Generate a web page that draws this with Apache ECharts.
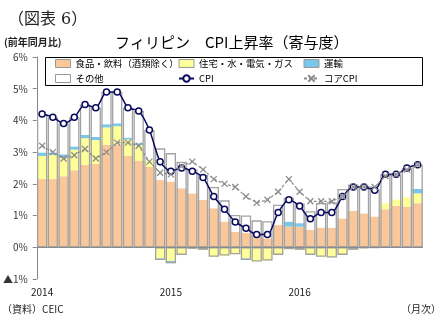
<!DOCTYPE html>
<html><head><meta charset="utf-8">
<script src="https://cdn.jsdelivr.net/npm/echarts@6/dist/echarts.min.js"></script>
<style>html,body{margin:0;padding:0;background:#fff}#c{width:438px;height:321px}</style>
</head><body><div id="c"></div>
<script>
const categories = ['2014/01','2014/02','2014/03','2014/04','2014/05','2014/06','2014/07','2014/08','2014/09','2014/10','2014/11','2014/12',
'2015/01','2015/02','2015/03','2015/04','2015/05','2015/06','2015/07','2015/08','2015/09','2015/10','2015/11','2015/12',
'2016/01','2016/02','2016/03','2016/04','2016/05','2016/06','2016/07','2016/08','2016/09','2016/10','2016/11','2016/12'];
const food      = [2.15,2.15,2.24,2.43,2.60,2.63,3.23,3.23,2.88,2.72,2.54,2.12, 2.07,1.86,1.70,1.49,1.23,0.81,0.49,0.46,0.41,0.28,0.70,0.65, 0.65,0.55,0.62,0.62,0.91,1.15,1.07,0.97,1.20,1.31,1.28,1.39];
const housing   = [0.73,0.76,0.58,0.65,0.84,0.75,0.55,0.59,0.52,0.50,0.20,-0.35, -0.43,-0.22,-0.05,-0.08,-0.30,-0.26,-0.22,-0.35,-0.45,-0.42,-0.24,-0.06, -0.08,-0.24,-0.30,-0.32,-0.24,-0.08,-0.03,-0.02,0.19,0.20,0.30,0.31];
const transport = [0.11,0.08,0.11,0.10,0.10,0.10,0.10,0.09,0.06,0.06,0.00,-0.05, -0.07,-0.02,0.00,0.00,0.00,0.00,0.00,-0.05,0.00,0.00,0.00,0.16, 0.11,0.00,0.00,0.00,0.00,0.00,0.00,0.00,0.00,0.00,0.00,0.14];
const other     = [1.21,1.11,0.97,0.92,0.96,0.92,1.02,0.99,0.94,1.02,0.96,1.00, 0.90,0.84,0.75,0.79,0.67,0.67,0.53,0.54,0.44,0.54,0.64,0.75, 0.62,0.59,0.78,0.80,0.93,0.83,0.86,0.85,0.91,0.79,0.92,0.76];
const cpi       = [4.2,4.1,3.9,4.1,4.5,4.4,4.9,4.9,4.4,4.3,3.7,2.7, 2.4,2.5,2.4,2.2,1.6,1.2,0.8,0.6,0.4,0.4,1.1,1.5, 1.3,0.9,1.1,1.1,1.6,1.9,1.9,1.8,2.3,2.3,2.5,2.6];
const core      = [3.2,3.0,2.8,2.9,3.1,2.8,3.0,3.3,3.3,3.2,2.7,2.35, 2.3,2.55,2.7,2.45,2.15,2.0,1.9,1.6,1.4,1.5,1.75,2.15, 1.75,1.45,1.45,1.45,1.6,1.9,1.9,1.9,2.25,2.3,2.45,2.6];
const yTicks = [-1,0,1,2,3,4,5,6];

const names = ['食品・飲料（酒類除く）','住宅・水・電気・ガス','運輸','その他','CPI','コアCPI'];
const colors = ['#F9C79A','#FFFF99','#79C8EB','#FFFFFF'];
const comps = [food, housing, transport, other];
const posTotal = categories.map((_, i) => comps.reduce((s, a) => s + (a[i] > 0 ? a[i] : 0), 0));
const negTotal = categories.map((_, i) => { const v = comps.reduce((s, a) => s + (a[i] < 0 ? a[i] : 0), 0); return v < 0 ? v : null; });

const FONT = '"Noto Sans CJK JP", "Noto Sans", sans-serif';
const GAP = '4%';
const series = comps.map((arr, k) => ({
  name: names[k], type: 'bar', stack: 'a', data: arr,
  barCategoryGap: GAP, barGap: '-100%',
  itemStyle: { color: colors[k] }, z: 2
}));
series.push({ name: 'outlinePos', type: 'bar', stack: 'b', data: posTotal, barCategoryGap: GAP, barGap: '-100%',
  itemStyle: { color: 'rgba(0,0,0,0)', borderColor: '#A2A2A2', borderWidth: 1.3 }, z: 3, silent: true,
  markLine: { silent: true, symbol: 'none', label: { show: false }, lineStyle: { color: '#8C8C8C', type: 'solid', width: 1 }, data: [{ yAxis: 0 }] } });
series.push({ name: 'outlineNeg', type: 'bar', stack: 'b', data: negTotal, barCategoryGap: GAP, barGap: '-100%',
  itemStyle: { color: 'rgba(0,0,0,0)', borderColor: '#A2A2A2', borderWidth: 1.3 }, z: 3, silent: true });
series.push({ name: 'CPI', type: 'line', data: cpi, smooth: 0.25, symbol: 'circle', symbolSize: 6, z: 5,
  lineStyle: { color: '#0A0A60', width: 1.5 }, itemStyle: { color: '#FFFFFF', borderColor: '#0A0A60', borderWidth: 1.5 } });
series.push({ name: 'コアCPI', type: 'line', data: core, symbol: 'path://M0,0L10,10M10,0L0,10', symbolSize: 6, z: 6,
  lineStyle: { color: '#8C8C8C', width: 1.2, type: [3, 2] }, itemStyle: { color: '#8C8C8C', borderColor: '#8C8C8C', borderWidth: 1.3 } });

const legText = { fontFamily: FONT, fontSize: 9.4, color: '#000', lineHeight: 13 };
const barLegItem = (n, c) => ({ name: n, icon: 'rect', itemStyle: { color: c, borderColor: '#999', borderWidth: 1 } });
const legCommon = { orient: 'vertical', top: 57, padding: 0, itemGap: 2, itemWidth: 15, itemHeight: 8, textStyle: legText, selectedMode: false };

const chart = echarts.init(document.getElementById('c'), null, { renderer: 'canvas' });
chart.setOption({
  animation: false,
  backgroundColor: '#fff',
  grid: { left: 35, right: 15, top: 57, bottom: 42, containLabel: false },
  legend: [
    Object.assign({ left: 55, data: [barLegItem(names[0], colors[0]), barLegItem(names[3], colors[3])] }, legCommon),
    Object.assign({ left: 178, data: [barLegItem(names[1], colors[1]), { name: 'CPI' }] }, legCommon),
    Object.assign({ left: 303, data: [barLegItem(names[2], colors[2]), { name: 'コアCPI' }] }, legCommon)
  ],
  xAxis: { type: 'category', data: categories, axisLine: { show: false }, axisTick: { show: false },
    axisLabel: { interval: 0, margin: 8, fontFamily: FONT, fontSize: 10, color: '#222',
      formatter: v => v.endsWith('/01') ? v.slice(0, 4) : '' } },
  yAxis: { type: 'value', min: yTicks[0], max: yTicks[yTicks.length - 1], interval: 1,
    axisLine: { show: true, lineStyle: { color: '#868686' } },
    axisTick: { show: true, length: 4, lineStyle: { color: '#868686' } },
    splitLine: { show: false },
    axisLabel: { margin: 9, fontFamily: FONT, fontSize: 10, color: '#333',
      formatter: v => v < 0 ? '▲' + (-v) + '%' : v + '%' } },
  graphic: [
    { type: 'rect', shape: { x: 45.5, y: 57.5, width: 377, height: 28 }, style: { fill: 'none', stroke: '#000', lineWidth: 1 }, z: 10 },
    { type: 'text', left: 8, top: 12, style: { text: '（図表 6）', font: '16px "DejaVu Serif", "Noto Sans CJK JP", serif', fill: '#222' } },
    { type: 'text', left: 4, top: 37, style: { text: '(前年同月比)', font: 'bold 10px ' + FONT, fill: '#222' } },
    { type: 'text', left: 115, top: 35, style: { text: 'フィリピン　CPI上昇率（寄与度）', font: '15px ' + FONT, fill: '#000' } },
    { type: 'text', left: 2, top: 304, style: { text: '（資料）CEIC', font: '10px ' + FONT, fill: '#222' } },
    { type: 'text', left: 401, top: 304, style: { text: '（月次）', font: '10px ' + FONT, fill: '#222' } }
  ],
  series: series
});
</script></body></html>
